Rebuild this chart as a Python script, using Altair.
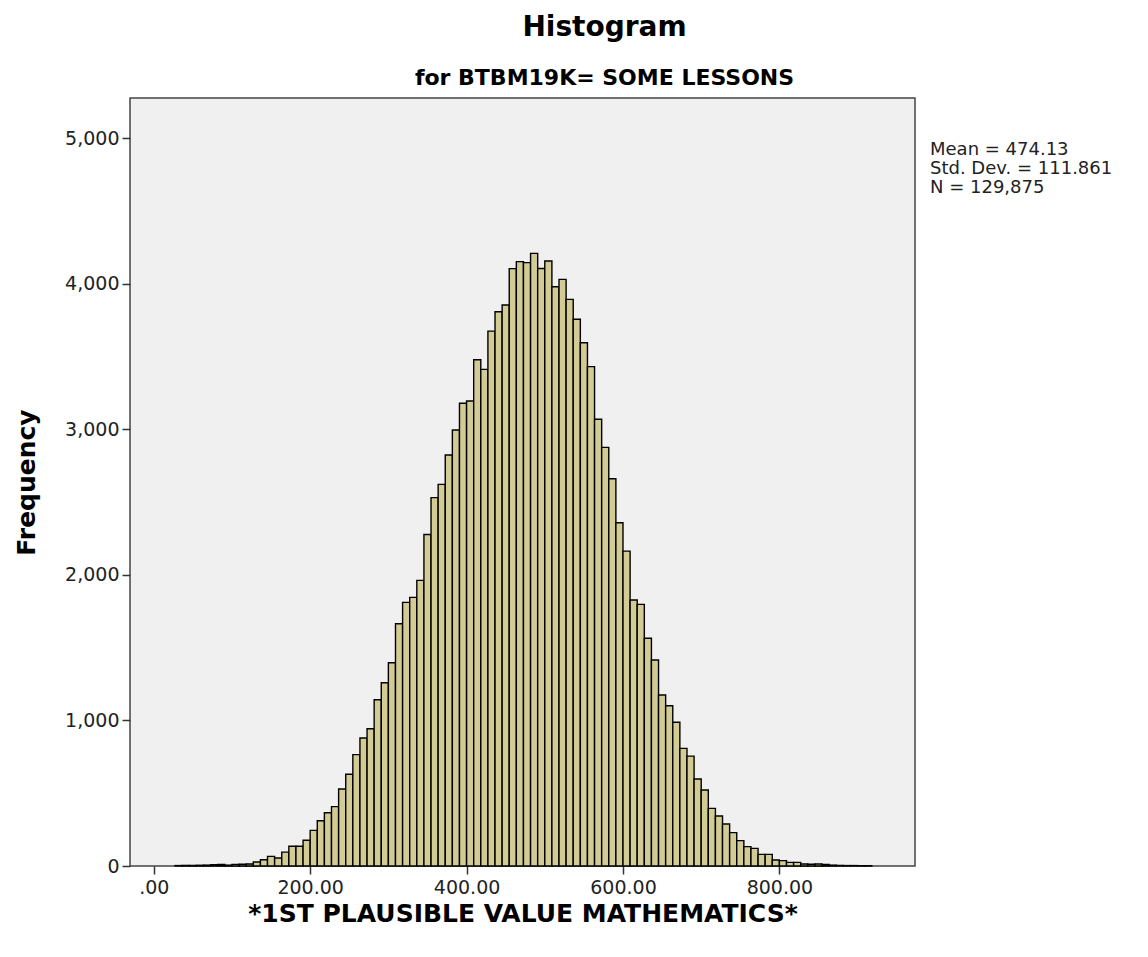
import altair as alt
import pandas as pd

# Frequencies, one per bin (bin width = 100/11, first bin starts at 0)
counts = [
    0, 0, 0, 3, 4, 4, 5, 6, 9, 10, 6, 11, 12, 14, 27, 43, 66, 55, 95, 136, 136, 177,
    245, 311, 366, 408, 529, 630, 765, 879, 943,
    1142, 1259, 1396, 1664, 1811, 1845, 1962, 2277,
    2530, 2621, 2823, 2995, 3178, 3194, 3477, 3411,
    3674, 3807, 3853, 4103, 4151, 4144, 4208, 4104,
    4155, 3979, 4029, 3892, 3755, 3594, 3430, 3068,
    2875, 2660, 2358, 2163, 1827, 1797, 1564, 1415,
    1174, 1101, 987, 808, 755, 598, 522, 396,
    343, 288, 229, 174, 133, 121, 80, 80, 41, 37, 25, 25, 14, 12, 14, 10,
    6, 4, 3, 3, 2, 2,
]
bin_width = 100 / 11
x_ticks = [0, 200, 400, 600, 800]
y_ticks = [0, 1000, 2000, 3000, 4000, 5000]
stats_lines = ["Mean = 474.13", "Std. Dev. = 111.861", "N = 129,875"]

title_text = "Histogram"
subtitle_text = "for BTBM19K= SOME LESSONS"
x_title = "*1ST PLAUSIBLE VALUE MATHEMATICS*"
y_title = "Frequency"

df = pd.DataFrame({"count": counts})
df["lo"] = df.index * bin_width
df["hi"] = df["lo"] + bin_width

FONT = "DejaVu Sans"

bars = alt.Chart(df).transform_filter(
    "datum.count > 0"
).mark_bar(
    fill="#d2cb93", stroke="#000000", strokeWidth=1.4, orient="vertical"
).encode(
    x=alt.X(
        "lo:Q",
        scale=alt.Scale(domain=[-24, 967], nice=False, zero=False),
        axis=alt.Axis(
            values=x_ticks,
            labelExpr="datum.value == 0 ? '.00' : format(datum.value, '.2f')",
            title=x_title,
            titleY=55,
            titleBaseline="alphabetic",
            tickSize=8,
            labelPadding=4,
        ),
    ),
    x2="hi:Q",
    y=alt.Y(
        "count:Q",
        scale=alt.Scale(domain=[0, 5275], nice=False),
        axis=alt.Axis(
            values=y_ticks,
            labelExpr="format(datum.value, ',.0f')",
            title=y_title,
            titleX=-96,
            titleBaseline="alphabetic",
            tickSize=8,
            labelPadding=3,
        ),
    ),
    y2=alt.datum(0),
)

stats = alt.Chart(pd.DataFrame({"t": ["\n".join(stats_lines)]})).mark_text(
    align="left", baseline="alphabetic", lineBreak="\n", fontSize=18,
    lineHeight=19, font=FONT, color="#222222",
).encode(
    x=alt.value(800), y=alt.value(57), text="t:N"
)

chart = alt.layer(bars, stats).properties(
    width=785,
    height=768,
    background="white",
    title=alt.TitleParams(
        text=title_text,
        subtitle=subtitle_text,
        anchor="middle",
        frame="group",
        dx=82,
        offset=9,
        subtitlePadding=26,
        font=FONT,
        fontSize=28,
        fontWeight="bold",
        color="#000000",
        subtitleFont=FONT,
        subtitleFontSize=22,
        subtitleFontWeight="bold",
        subtitleColor="#000000",
    ),
    autosize=alt.AutoSizeParams(type="none"),
    padding={"left": 122, "top": 90, "right": 225, "bottom": 75},
).configure_view(
    fill="#f0f0f0", stroke="#444444", strokeWidth=1.5
).configure_axis(
    grid=False,
    domain=False,
    labelFont=FONT,
    labelFontSize=19,
    labelColor="#222222",
    tickColor="#333333",
    tickWidth=1.5,
    titleFont=FONT,
    titleFontSize=25,
    titleFontWeight="bold",
    titleColor="#000000",
)

chart.save("out.html", embed_options={"renderer": "svg", "actions": False})
